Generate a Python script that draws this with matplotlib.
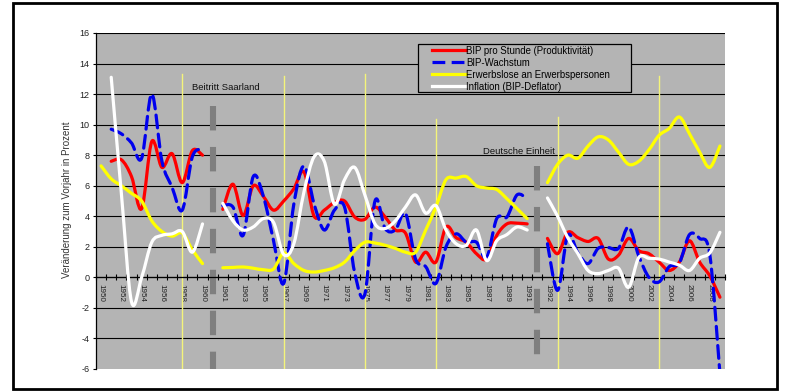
import numpy as np
import matplotlib
matplotlib.use('Agg')
import matplotlib.pyplot as plt
from matplotlib.path import Path
from matplotlib.patches import PathPatch, Rectangle
from matplotlib.lines import Line2D

plt.rcParams['font.family'] = ['Liberation Sans', 'DejaVu Sans']
plt.rcParams['axes.unicode_minus'] = False

nan = np.nan

# three blocks of years, an empty category sits between them
years_a = list(range(1950, 1961))
years_b = list(range(1961, 1992))
years_c = list(range(1992, 2010))

# BIP pro Stunde (Produktivitaet)
red_a = [nan, 7.6, 7.7, 6.6, 4.5, 8.9, 7.2, 8.1, 6.2, 8.3, 8.0]
red_b = [4.45, 6.1, 4.05, 6.0, 5.3, 4.4, 5.0, 5.8, 6.9, 4.0,
         4.4, 4.9, 5.0, 3.95, 3.8, 4.6, 3.95, 3.1, 2.9, 1.0,
         1.65, 1.0, 3.3, 2.6, 2.3, 1.55, 1.2, 2.75, 3.5, 3.55, 3.5]
red_c = [2.55, 1.55, 2.95, 2.6, 2.35, 2.55, 1.2, 1.45, 2.55, 1.75,
         1.55, 1.0, 0.45, 1.0, 2.4, 1.0, 0.1, -1.3]

# BIP-Wachstum
blue_a = [nan, 9.7, 9.4, 8.8, 7.8, 12.0, 7.6, 5.9, 4.4, 7.9, 8.4]
blue_b = [4.7, 4.6, 2.75, 6.6, 5.3, 2.4, -0.4, 4.8, 7.3, 4.8,
          3.1, 4.4, 4.6, 0.3, -1.1, 5.0, 3.2, 3.1, 4.2, 1.2,
          0.7, -0.4, 2.0, 2.85, 2.3, 2.3, 1.3, 3.85, 3.95, 5.4, 5.15]
blue_c = [2.2, -0.85, 2.75, 1.6, 0.9, 1.9, 1.95, 1.9, 3.3, 1.4,
          0.0, -0.3, 0.7, 0.95, 2.8, 2.55, 1.5, -6.3]

# Erwerbslose an Erwerbspersonen
yel_a = [7.3, 6.45, 6.0, 5.5, 5.0, 3.7, 3.0, 2.7, 2.9, 1.8, 0.9]
yel_b = [0.63, 0.65, 0.68, 0.6, 0.5, 0.55, 1.6, 0.9, 0.45, 0.35,
         0.45, 0.63, 1.0, 1.75, 2.3, 2.25, 2.1, 1.9, 1.65, 1.65,
         3.1, 4.6, 6.4, 6.5, 6.6, 6.0, 5.85, 5.75, 5.15, 4.5, 3.85]
yel_c = [6.2, 7.4, 8.0, 7.8, 8.6, 9.2, 9.0, 8.2, 7.4, 7.6,
         8.35, 9.3, 9.75, 10.5, 9.4, 8.2, 7.2, 8.6]

# Inflation (BIP-Deflator)
wht_a = [nan, 13.1, 5.5, -1.6, 0.0, 2.3, 2.75, 2.85, 3.0, 1.65, 3.5]
wht_b = [4.85, 3.7, 3.1, 3.3, 3.85, 3.6, 1.5, 2.2, 5.6, 7.9,
         7.6, 4.8, 6.4, 7.2, 5.4, 3.5, 3.2, 3.7, 4.6, 5.4,
         4.2, 4.7, 3.1, 2.2, 2.1, 3.1, 1.1, 2.4, 2.8, 3.3, 3.1]
wht_c = [5.2, 4.0, 2.6, 1.55, 0.45, 0.25, 0.45, 0.6, -0.65, 1.3,
         1.25, 1.2, 1.0, 0.8, 0.45, 1.25, 1.6, 2.95]

series_labels = ['BIP pro Stunde (Produktivität)', 'BIP-Wachstum',
                 'Erwerbslose an Erwerbspersonen', 'Inflation (BIP-Deflator)']

# recession years (thin yellow markers) and their heights
recession_years = [1958, 1967, 1975, 1982, 1993, 2003]
recession_tops = [13.3, 13.2, 13.3, 10.4, 10.5, 13.2]

# the two breaks (grey dashed bars)
break_tops = [11.2, 7.3]
break_texts = ['Beitritt Saarland', 'Deutsche Einheit']
break_text_pos = [(9.0, 12.4), (37.6, 8.25)]

bg = '#b4b4b4'

cats = [str(y) for y in years_a] + [''] + [str(y) for y in years_b] + [''] + [str(y) for y in years_c]
slot = {c: i for i, c in enumerate(cats) if c}
break_slots = [i for i, c in enumerate(cats) if not c]


def smooth_path(xs, ys):
    pts = np.column_stack([xs, ys])
    n = len(pts)
    verts = [pts[0]]
    codes = [Path.MOVETO]
    for i in range(n - 1):
        p0 = pts[max(i - 1, 0)]
        p1 = pts[i]
        p2 = pts[i + 1]
        p3 = pts[min(i + 2, n - 1)]
        verts += [p1 + (p2 - p0) / 6.0, p2 - (p3 - p1) / 6.0, p2]
        codes += [Path.CURVE4] * 3
    return Path(verts, codes)


def draw_series(ax, years, vals, color, ls, z):
    xs = np.array([slot[str(y)] for y in years], dtype=float)
    vs = np.array(vals, dtype=float)
    ok = ~np.isnan(vs)
    p = PathPatch(smooth_path(xs[ok], vs[ok]), fill=False, edgecolor=color,
                  lw=2.3, linestyle=ls, capstyle='round', joinstyle='round', zorder=z)
    ax.add_patch(p)


fig = plt.figure(figsize=(7.9, 3.92), dpi=100, facecolor='white')
ax = fig.add_axes([96 / 790, 1 - 369 / 392, 629 / 790, 336 / 392])
ax.set_facecolor(bg)
ax.set_xlim(-0.5, len(cats) - 0.5)
ax.set_ylim(-6, 16)

# grid
ax.set_yticks(range(-6, 17, 2))
ax.grid(axis='y', color='black', lw=0.8)
ax.get_ygridlines()[0].set_visible(False)
ax.set_axisbelow(True)

# recession markers
for yr, top in zip(recession_years, recession_tops):
    ax.plot([slot[str(yr)]] * 2, [-6, top], color='#f4f47a', lw=1.0, zorder=1.5)

# break bars
for s, top in zip(break_slots, break_tops):
    ax.plot([s, s], [top, -6], color='#7f7f7f', lw=4.4, dashes=(4, 2.7),
            solid_capstyle='butt', dash_capstyle='butt', zorder=1.6)
for txt, (tx, ty) in zip(break_texts, break_text_pos):
    ax.text(tx, ty, txt, fontsize=6.8, color='#111111', ha='left', va='center')

styles = [('#ff0000', '-'), ('#0000ee', (0, (4, 2))), ('#ffff00', '-'), ('#ffffff', '-')]
data = [(red_a, red_b, red_c), (blue_a, blue_b, blue_c),
        (yel_a, yel_b, yel_c), (wht_a, wht_b, wht_c)]
for k, ((col, ls), segs) in enumerate(zip(styles, data)):
    for yrs, vals in zip((years_a, years_b, years_c), segs):
        draw_series(ax, yrs, vals, col, ls, 3 + k * 0.1)

# axes
for sp in ['top', 'right']:
    ax.spines[sp].set_visible(False)
ax.spines['bottom'].set_position(('data', 0))
ax.spines['bottom'].set_linewidth(0.9)
ax.spines['left'].set_linewidth(0.9)
ax.tick_params(axis='y', direction='out', length=2.5, width=0.8, pad=2,
               labelsize=6.5, labelcolor='#222222')

lab_pos = list(range(0, len(cats), 2))
ax.set_xticks(lab_pos)
ax.set_xticklabels([cats[i] for i in lab_pos], rotation=270, fontsize=5.8,
                   color='#222222', ha='center', va='top')
ax.set_xticks(np.arange(-0.5, len(cats), 1), minor=True)
ax.tick_params(axis='x', which='major', length=0, pad=4.5)
ax.tick_params(axis='x', which='minor', direction='inout', length=4, width=0.8)

# legend box
ax.add_patch(Rectangle(((418 - 96) / 629, (369 - 92) / 336), 213 / 629, 48 / 336,
                       transform=ax.transAxes, facecolor=bg, edgecolor='black',
                       lw=0.9, zorder=5))
handles = [Line2D([], [], color=c, lw=2.3, linestyle=ls) for c, ls in styles]
leg = ax.legend(handles, series_labels, loc='upper left',
                bbox_to_anchor=((432 - 96) / 629, (369 - 45.5) / 336),
                frameon=False, fontsize=6.9, borderpad=0, borderaxespad=0,
                labelspacing=0.22, handlelength=3.5, handletextpad=0.1)
leg.set_zorder(6)

fig.text(67.5 / 790, 1 - 200 / 392, 'Veränderung zum Vorjahr in Prozent',
         rotation=90, ha='center', va='center', fontsize=7, color='#333333')

fig.patches.append(Rectangle((13 / 790, 3 / 392), 764 / 790, 386 / 392,
                             transform=fig.transFigure, fill=False,
                             edgecolor='black', lw=2))

fig.savefig('out.png', dpi=100)
